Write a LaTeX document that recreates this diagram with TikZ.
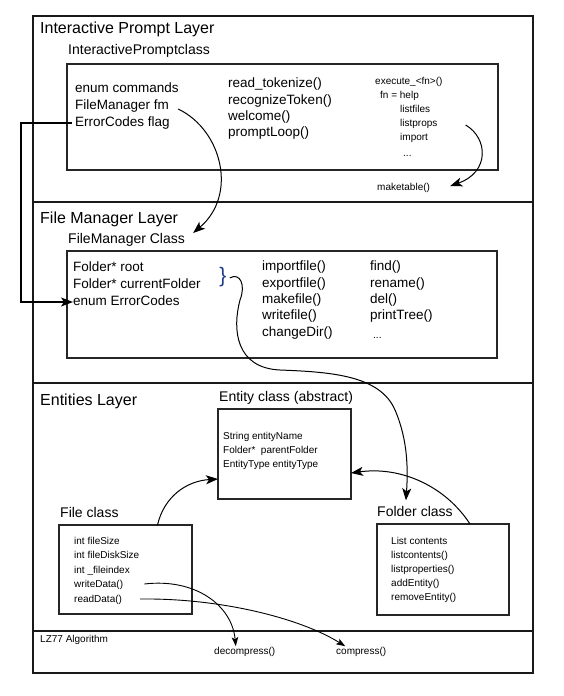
\documentclass[tikz,border=0pt]{standalone}
\usepackage{fontspec}
\setmainfont{Liberation Sans}
\usetikzlibrary{arrows.meta}
\definecolor{bracecol}{HTML}{1F3C88}
\begin{document}
\begin{tikzpicture}[x=1pt,y=-1pt,
  frame/.style={draw=black!90, line width=1.4pt},
  box/.style={draw=black!85, line width=1.3pt},
  ttl/.style={anchor=west, inner sep=0pt, font=\fontsize{16}{18}\selectfont, text height=11.5pt, text depth=3.5pt},
  cls/.style={anchor=west, inner sep=0pt, font=\fontsize{14}{16}\selectfont, text height=10pt, text depth=3pt},
  mem/.style={anchor=west, inner sep=0pt, font=\fontsize{13.5}{16}\selectfont, text height=9.7pt, text depth=2.8pt},
  sml/.style={anchor=west, inner sep=0pt, font=\fontsize{10}{12}\selectfont, text height=7.2pt, text depth=2pt},
  arr/.style={-{Stealth[length=12pt,width=9pt,inset=3pt]}, line width=1pt},
  sarr/.style={-{Stealth[length=9pt,width=6.5pt,inset=2pt]}, line width=0.9pt},
  conn/.style={line width=1.2pt}
]
\useasboundingbox (0,0) rectangle (563,696);

% outer frame and layer separators
\draw[frame] (33,16) rectangle (533,673);
\draw[frame] (33,202) -- (533,202);
\draw[frame] (33,383) -- (533,383);
\draw[frame] (33,631) -- (533,631);

% ---------- Interactive Prompt Layer ----------
\node[ttl] (iplayer) at (40,29) {Interactive Prompt Layer};
\node[cls] (ipclass) at (68,51) {InteractivePromptclass};
\draw[box] (67,64) rectangle (498,170);
\node[mem] (ecmds) at (75,89) {enum commands};
\node[mem] (fmfm) at (75,106) {FileManager fm};
\node[mem] (flag) at (75,123) {ErrorCodes flag};
\node[mem] (rtok) at (228,84) {read\_tokenize()};
\node[mem] (rectok) at (228,101) {recognizeToken()};
\node[mem] (welc) at (228,117) {welcome()};
\node[mem] (ploop) at (228,133) {promptLoop()};
\node[sml] (exec) at (375,82) {execute\_<fn>()};
\node[sml] (fnhelp) at (380,96) {fn = help};
\node[sml] (lfiles) at (400,110) {listfiles};
\node[sml] (lprops) at (400,124) {listprops};
\node[sml] (imp) at (400,138) {import};
\node[sml] (idots) at (403,154) {...};
\node[sml] (mktable) at (377,188) {maketable()};

% ---------- File Manager Layer ----------
\node[ttl] (fmlayer) at (40,219) {File Manager Layer};
\node[cls] (fmclass) at (68,240) {FileManager Class};
\draw[box] (67,251) rectangle (497,358);
\node[mem] (froot) at (73,268) {Folder* root};
\node[mem] (fcur) at (73,285) {Folder* currentFolder};
\node[mem] (enumec) at (73,302) {enum ErrorCodes};
\node[inner sep=0pt, font=\fontsize{21}{22}\selectfont, text=bracecol] (brace) at (223,277) {\}};
\node[mem] (impf) at (262,267) {importfile()};
\node[mem] (expf) at (262,284) {exportfile()};
\node[mem] (makef) at (262,300) {makefile()};
\node[mem] (writef) at (262,316) {writefile()};
\node[mem] (chdir) at (262,333) {changeDir()};
\node[mem] (findm) at (370,267) {find()};
\node[mem] (renm) at (370,284) {rename()};
\node[mem] (delm) at (370,300) {del()};
\node[mem] (ptree) at (370,316) {printTree()};
\node[sml] (fdots) at (373,336) {...};

% ---------- Entities Layer ----------
\node[ttl] (entlayer) at (40,401) {Entities Layer};
\node[cls] (entlbl) at (219,398) {Entity class (abstract)};
\draw[box] (218,409) rectangle (351,499);
\coordinate (entity-w) at (218,454);
\coordinate (entity-e) at (351,454);
\node[sml] (ename) at (223,437) {String entityName};
\node[sml] (eparent) at (223,451) {Folder*\ \ parentFolder};
\node[sml] (etype) at (223,465) {EntityType entityType};

\node[cls] (filelbl) at (60,514) {File class};
\draw[box] (59,525) rectangle (192,614);
\coordinate (filebox-n) at (125.5,525);
\node[sml] (fsize) at (74,542) {int fileSize};
\node[sml] (fdisk) at (74,556) {int fileDiskSize};
\node[sml] (findex) at (74,571) {int \_fileindex};
\node[sml] (wdata) at (74,585) {writeData()};
\node[sml] (rdata) at (74,600) {readData()};

\node[cls] (folderlbl) at (377,513) {Folder class};
\draw[box] (377,524) rectangle (509,615);
\coordinate (folderbox-n) at (443,524);
\node[sml] (lcont) at (391,542) {List contents};
\node[sml] (lcontm) at (391,556) {listcontents()};
\node[sml] (lpropm) at (391,570) {listproperties()};
\node[sml] (adde) at (391,584) {addEntity()};
\node[sml] (reme) at (391,598) {removeEntity()};

% ---------- LZ77 ----------
\node[sml] (lzlbl) at (40,640) {LZ77 Algorithm};
\node[sml] (decomp) at (214,652) {decompress()};
\node[sml] (comp) at (336,652) {compress()};

% ---------- connectors ----------
\draw[arr, conn, line width=1.2pt] ([shift={(-3,0)}]flag.west) -- ++(-51,0) |- (enumec.west);
\draw[arr] ([shift={(9,3)}]fmfm.east) .. controls (222,130) and (238,195) .. ([shift={(8,-7)}]fmclass.east);
\draw[arr] ([shift={(28,1)}]lprops.east) .. controls (488,138) and (490,172) .. ([shift={(20,-2)}]mktable.east);
\draw[arr] ([shift={(3,1)}]brace.east) .. controls (240,272) and (246,285) .. (240,300)
  .. controls (232,330) and (236,368) .. (280,370)
  .. controls (330,372) and (380,375) .. (395,410)
  .. controls (408,440) and (408,470) .. ([shift={(-9,-6)}]folderlbl.north);
\draw[arr] ([shift={(32,0)}]filebox-n) .. controls (164,497) and (186,481) .. ([shift={(0,25)}]entity-w);
\draw[arr] ([shift={(27,0)}]folderbox-n) .. controls (446,487) and (402,466) .. ([shift={(0,19)}]entity-e);
\draw[sarr] ([shift={(21,-1)}]wdata.east) .. controls (195,578) and (232,605) .. ([shift={(-9,-1)}]decomp.north);
\draw[sarr] ([shift={(18,-1)}]rdata.east) .. controls (220,598) and (300,618) .. ([shift={(-16,-1)}]comp.north);
\end{tikzpicture}
\end{document}
